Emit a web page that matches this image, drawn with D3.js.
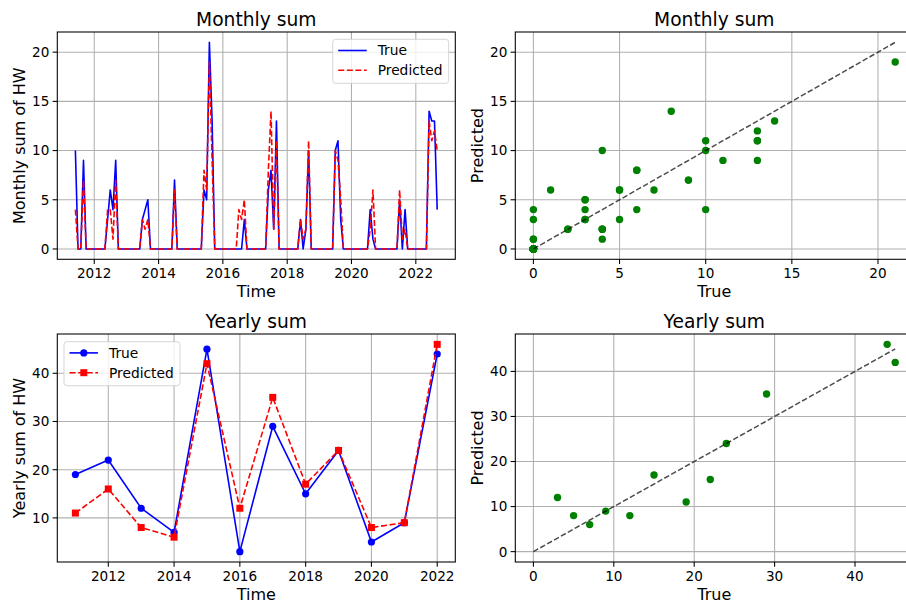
<!DOCTYPE html>
<html><head><meta charset="utf-8">
<script src="https://cdn.jsdelivr.net/npm/d3@7"></script>
<style>
body{margin:0;background:#fff}
svg{display:block}
text{font-family:"DejaVu Sans",sans-serif;fill:#000}
</style>
</head><body>
<svg id="c" width="906" height="602"></svg>
<script>
// ---------------- DATA ----------------
const monthStart = "2011-06-01";   // first month of the monthly series (Jun 2011 .. Sep 2022)
const monthlyTrue = [
  10,0,0,9,0,0,0,                 // 2011 Jun-Dec
  0,0,0,0,0,3,6,4,9,0,0,0,        // 2012
  0,0,0,0,0,0,3,4,5,0,0,0,        // 2013
  0,0,0,0,0,0,7,0,0,0,0,0,        // 2014
  0,0,0,0,0,6,5,21,13,0,0,0,      // 2015
  0,0,0,0,0,0,0,0,3,0,0,0,        // 2016
  0,0,0,0,0,6,8,2,13,0,0,0,       // 2017
  0,0,0,0,0,3,0,2,10,0,0,0,       // 2018
  0,0,0,0,0,0,10,11,3,0,0,0,      // 2019
  0,0,0,0,0,0,0,4,1,0,0,0,        // 2020
  0,0,0,0,0,0,5,0,4,0,0,0,        // 2021
  0,0,0,0,0,14,13,13,4            // 2022 Jan-Sep
];
const monthlyPred = [
  4,0,0,7,0,0,0,
  0,0,0,0,0,4,4,1,7,0,0,0,
  0,0,0,0,0,0,3,2,3,0,0,0,
  0,0,0,0,0,0,6,0,0,0,0,0,
  0,0,0,0,0,8,6,19,9,0,0,0,
  0,0,0,0,0,0,4,3,5,0,0,0,
  0,0,0,0,0,8,14,2,11,0,0,0,
  0,0,0,0,0,3,1,2,11,0,0,0,
  0,0,0,0,0,0,10,9,5,0,0,0,
  0,0,0,0,0,0,0,2,6,0,0,0,
  0,0,0,0,0,0,6,1,2,0,0,0,
  0,0,0,0,0,13,11,12,10
];
const years      = [2011,2012,2013,2014,2015,2016,2017,2018,2019,2020,2021,2022];
const yearlyTrue = [19,22,12,7,45,3,29,15,24,5,9,44];
const yearlyPred = [11,16,8,6,42,12,35,17,24,8,9,46];

const timeTickYears      = [2012,2014,2016,2018,2020,2022];
const monthlyYTicks      = [0,5,10,15,20];
const monthlyScatterTick = [0,5,10,15,20];
const yearlyYTicks       = [10,20,30,40];
const yearlyScatterTick  = [0,10,20,30,40];
const seriesNames = ["True","Predicted"];

// ---------------- SETUP ----------------
const svg = d3.select("#c");
svg.append("rect").attr("width",906).attr("height",602).attr("fill","#fff");

const GRID="#b0b0b0", SP=1.07, TICK=4.7;
const TICKFS=13.6, LEGFS=13.8, LABELFS=16, TITLEFS=18.67;

function pad(ext){const d=(ext[1]-ext[0])*0.05;return [ext[0]-d, ext[1]+d];}

function panel(p){
  const g = svg.append("g");
  const x = p.x, y = p.y;
  const L=p.x0, T=p.y0, R=p.x0+p.w, B=p.y0+p.h;
  g.selectAll(".gx").data(p.xt).join("line")
    .attr("x1",d=>x(d.v)).attr("x2",d=>x(d.v)).attr("y1",T).attr("y2",B)
    .attr("stroke",GRID).attr("stroke-width",SP);
  g.selectAll(".gy").data(p.yt).join("line")
    .attr("x1",L).attr("x2",R).attr("y1",d=>y(d)).attr("y2",d=>y(d))
    .attr("stroke",GRID).attr("stroke-width",SP);
  g.selectAll(".tx").data(p.xt).join("line")
    .attr("x1",d=>x(d.v)).attr("x2",d=>x(d.v)).attr("y1",B).attr("y2",B+TICK)
    .attr("stroke","#000").attr("stroke-width",SP);
  g.selectAll(".ty").data(p.yt).join("line")
    .attr("x1",L-TICK).attr("x2",L).attr("y1",d=>y(d)).attr("y2",d=>y(d))
    .attr("stroke","#000").attr("stroke-width",SP);
  g.selectAll(".lx").data(p.xt).join("text")
    .attr("x",d=>x(d.v)).attr("y",B+19).attr("text-anchor","middle")
    .attr("font-size",TICKFS).text(d=>d.t);
  g.selectAll(".ly").data(p.yt).join("text")
    .attr("x",L-8).attr("y",d=>y(d)).attr("dy","0.36em").attr("text-anchor","end")
    .attr("font-size",TICKFS).text(d=>d);
  g.append("text").attr("x",(L+R)/2).attr("y",T-6).attr("text-anchor","middle")
    .attr("font-size",TITLEFS).text(p.title);
  g.append("text").attr("x",(L+R)/2).attr("y",B+37.5).attr("text-anchor","middle")
    .attr("font-size",LABELFS).text(p.xlabel);
  g.append("text").attr("transform",`translate(${p.ylx},${(T+B)/2}) rotate(-90)`)
    .attr("text-anchor","middle").attr("font-size",LABELFS).text(p.ylabel);
  const clipId="clip"+Math.round(L)+"_"+Math.round(T);
  svg.append("clipPath").attr("id",clipId).append("rect")
    .attr("x",L).attr("y",T).attr("width",p.w).attr("height",p.h);
  const plot = svg.append("g").attr("clip-path",`url(#${clipId})`);
  p.draw(plot);
  svg.append("rect").attr("x",L).attr("y",T).attr("width",p.w).attr("height",p.h)
    .attr("fill","none").attr("stroke","#000").attr("stroke-width",SP);
  return {L,T,R,B};
}

function legend(x0,y0,markers){
  const g=svg.append("g");
  g.append("rect").attr("x",x0).attr("y",y0).attr("width",116).attr("height",44).attr("rx",3)
    .attr("fill","#fff").attr("fill-opacity",0.8).attr("stroke","#cccccc").attr("stroke-opacity",0.8).attr("stroke-width",1);
  seriesNames.forEach((name,i)=>{
    const yy=y0+11.2+i*19.8;
    const col=i===0?"#0000ff":"#ff0000";
    g.append("line").attr("x1",x0+5.5).attr("x2",x0+34).attr("y1",yy).attr("y2",yy)
      .attr("stroke",col).attr("stroke-width",1.6).attr("stroke-dasharray",i===0?null:"6,2.6");
    if(markers){
      const cx=x0+19.8;
      if(i===0) g.append("circle").attr("cx",cx).attr("cy",yy).attr("r",3.6).attr("fill",col);
      else g.append("rect").attr("x",cx-3.5).attr("y",yy-3.5).attr("width",7).attr("height",7).attr("fill",col);
    }
    g.append("text").attr("x",x0+45).attr("y",yy).attr("dy","0.36em").attr("font-size",LEGFS).text(name);
  });
}

// ---------------- TOP LEFT: monthly time series ----------------
const start = d3.utcParse("%Y-%m-%d")(monthStart);
const monthDates = monthlyTrue.map((_,i)=>d3.utcMonth.offset(start,i));
const tExt = d3.extent(monthDates);
const tSpan = tExt[1]-tExt[0];
const TL={x0:57.3,y0:32,w:398,h:227.3};
const xTL=d3.scaleUtc().domain([new Date(+tExt[0]-tSpan*0.05), new Date(+tExt[1]+tSpan*0.05)]).range([TL.x0,TL.x0+TL.w]);
const yTL=d3.scaleLinear().domain(pad(d3.extent(monthlyTrue.concat(monthlyPred)))).range([TL.y0+TL.h,TL.y0]);
const tlBox = panel(Object.assign(TL,{x:xTL,y:yTL,
  xt:timeTickYears.map(yv=>({v:new Date(Date.UTC(yv,0,1)),t:String(yv)})),
  yt:monthlyYTicks,title:"Monthly sum",xlabel:"Time",ylabel:"Monthly sum of HW",ylx:25,
  draw:(g)=>{
    const line=d3.line().x((d,i)=>xTL(monthDates[i])).y(d=>yTL(d));
    g.append("path").datum(monthlyTrue).attr("d",line).attr("fill","none")
      .attr("stroke","#0000ff").attr("stroke-width",1.6).attr("stroke-linejoin","round");
    g.append("path").datum(monthlyPred).attr("d",line).attr("fill","none")
      .attr("stroke","#ff0000").attr("stroke-width",1.6).attr("stroke-dasharray","6,2.6").attr("stroke-linejoin","round");
  }}));
legend(tlBox.R-122.6, tlBox.T+7.3, false);

// ---------------- TOP RIGHT: monthly scatter ----------------
const TR={x0:515.3,y0:32,w:398,h:227.3};
const mMax=d3.max(monthlyTrue);
const xTR=d3.scaleLinear().domain(pad([0,d3.max(monthlyTrue)])).range([TR.x0,TR.x0+TR.w]);
const yTR=d3.scaleLinear().domain(pad([0,Math.max(mMax,d3.max(monthlyPred))])).range([TR.y0+TR.h,TR.y0]);
panel(Object.assign(TR,{x:xTR,y:yTR,
  xt:monthlyScatterTick.map(v=>({v,t:String(v)})),yt:monthlyScatterTick,
  title:"Monthly sum",xlabel:"True",ylabel:"Predicted",ylx:483,
  draw:(g)=>{
    g.selectAll("circle").data(monthlyTrue).join("circle")
      .attr("cx",d=>xTR(d)).attr("cy",(d,i)=>yTR(monthlyPred[i])).attr("r",3.7).attr("fill","#008000");
    g.append("line").attr("x1",xTR(0)).attr("y1",yTR(0)).attr("x2",xTR(mMax)).attr("y2",yTR(mMax))
      .attr("stroke","#000").attr("stroke-opacity",0.7).attr("stroke-width",1.5).attr("stroke-dasharray","5.5,2.4");
  }}));

// ---------------- BOTTOM LEFT: yearly series ----------------
const BL={x0:57.3,y0:334,w:398,h:228};
const xBL=d3.scaleLinear().domain(pad(d3.extent(years))).range([BL.x0,BL.x0+BL.w]);
const yBL=d3.scaleLinear().domain(pad(d3.extent(yearlyTrue.concat(yearlyPred)))).range([BL.y0+BL.h,BL.y0]);
const blBox = panel(Object.assign(BL,{x:xBL,y:yBL,
  xt:timeTickYears.map(v=>({v,t:String(v)})),yt:yearlyYTicks,
  title:"Yearly sum",xlabel:"Time",ylabel:"Yearly sum of HW",ylx:25,
  draw:(g)=>{
    const line=d3.line().x((d,i)=>xBL(years[i])).y(d=>yBL(d));
    g.append("path").datum(yearlyTrue).attr("d",line).attr("fill","none")
      .attr("stroke","#0000ff").attr("stroke-width",1.6);
    g.selectAll(".mt").data(yearlyTrue).join("circle")
      .attr("cx",(d,i)=>xBL(years[i])).attr("cy",d=>yBL(d)).attr("r",3.6).attr("fill","#0000ff");
    g.append("path").datum(yearlyPred).attr("d",line).attr("fill","none")
      .attr("stroke","#ff0000").attr("stroke-width",1.6).attr("stroke-dasharray","6,2.6");
    g.selectAll(".mp").data(yearlyPred).join("rect")
      .attr("x",(d,i)=>xBL(years[i])-3.5).attr("y",d=>yBL(d)-3.5).attr("width",7).attr("height",7).attr("fill","#ff0000");
  }}));
legend(blBox.L+6.7, blBox.T+7.7, true);

// ---------------- BOTTOM RIGHT: yearly scatter ----------------
const BR={x0:515.3,y0:334,w:398,h:228};
const yMax=d3.max(yearlyTrue);
const xBR=d3.scaleLinear().domain(pad([0,yMax])).range([BR.x0,BR.x0+BR.w]);
const yBR=d3.scaleLinear().domain(pad([0,Math.max(yMax,d3.max(yearlyPred))])).range([BR.y0+BR.h,BR.y0]);
panel(Object.assign(BR,{x:xBR,y:yBR,
  xt:yearlyScatterTick.map(v=>({v,t:String(v)})),yt:yearlyScatterTick,
  title:"Yearly sum",xlabel:"True",ylabel:"Predicted",ylx:483,
  draw:(g)=>{
    g.selectAll("circle").data(yearlyTrue).join("circle")
      .attr("cx",d=>xBR(d)).attr("cy",(d,i)=>yBR(yearlyPred[i])).attr("r",3.7).attr("fill","#008000");
    g.append("line").attr("x1",xBR(0)).attr("y1",yBR(0)).attr("x2",xBR(yMax)).attr("y2",yBR(yMax))
      .attr("stroke","#000").attr("stroke-opacity",0.7).attr("stroke-width",1.5).attr("stroke-dasharray","5.5,2.4");
  }}));
</script>
</body></html>
